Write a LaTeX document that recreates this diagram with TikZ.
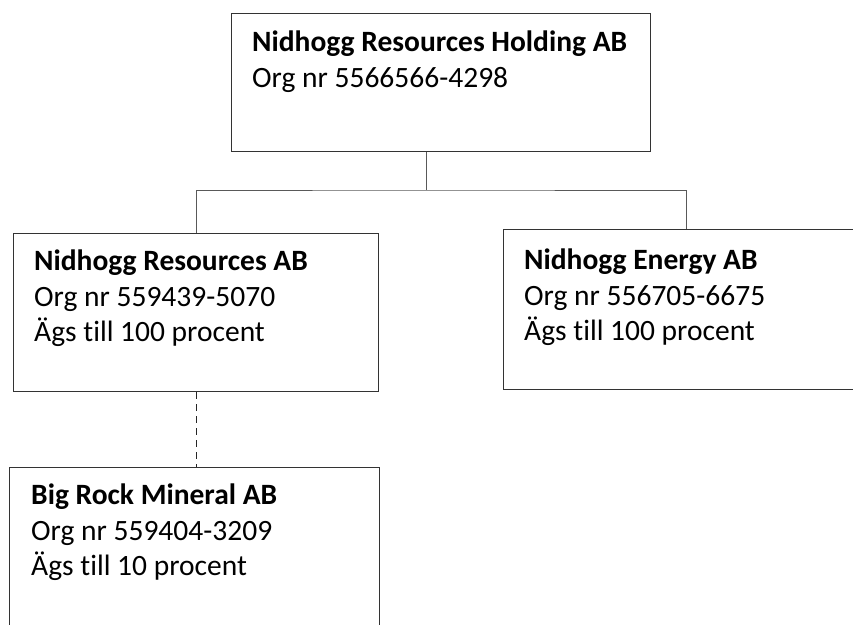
\documentclass[tikz,border=0pt]{standalone}
\usepackage{fontspec}
\setmainfont{Carlito}[Ligatures={TeX,NoCommon}]
\begin{document}
\begin{tikzpicture}[x=1pt, y=-1pt,
    box/.style={draw=black!80, line width=1.3pt, anchor=north west, inner sep=0pt},
    info/.style={anchor=north west, align=left, inner sep=0pt, text=black,
      font=\fontsize{29.5}{35.5}\selectfont},
    link/.style={draw=black!65, line width=1pt}]
    \useasboundingbox (0,0) rectangle (853,624);
    % boxes
    \node[box, minimum width=419pt, minimum height=138pt] (holding) at (231,13) {};
    \node[box, minimum width=365pt, minimum height=158pt] (resources) at (13,233) {};
    \node[box, minimum width=366pt, minimum height=160pt] (energy) at (503,229) {};
    \node[box, minimum width=370pt, minimum height=170pt] (mineral) at (9,467) {};
    % texts
    \node[info] (holding text) at ([shift={(21,18)}]holding.north west)
      {\textbf{Nidhogg Resources Holding AB}\\Org nr 5566566-4298};
    \node[info] (resources text) at ([shift={(21,17)}]resources.north west)
      {\textbf{Nidhogg Resources AB}\\Org nr 559439-5070\\Ägs till 100 procent};
    \node[info] (energy text) at ([shift={(21,20)}]energy.north west)
      {\textbf{Nidhogg Energy AB}\\Org nr 556705-6675\\Ägs till 100 procent};
    \node[info] (mineral text) at ([shift={(22,17)}]mineral.north west)
      {\textbf{Big Rock Mineral AB}\\Org nr 559404-3209\\Ägs till 10 procent};
    % connectors
    \coordinate (fork) at (426,190);
    \draw[link] (holding.south -| fork) -- (fork);
    \draw[link] (resources.north) |- (fork) -| (energy.north);
    \draw[link, draw=black!85, line width=1.3pt, dash pattern=on 7pt off 5pt]
      (resources.south) -- (resources.south |- mineral.north);
\end{tikzpicture}
\end{document}
